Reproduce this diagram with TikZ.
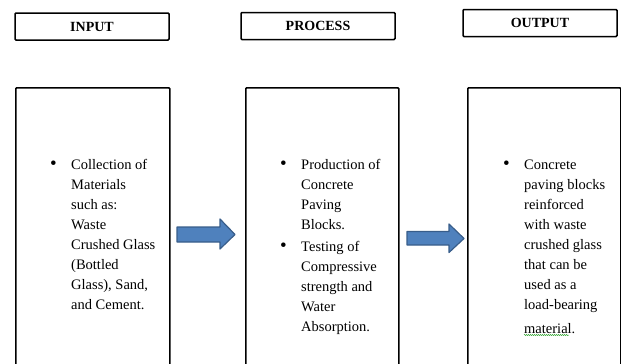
\documentclass[tikz,border=0pt]{standalone}
\usepackage{fontspec}
\setmainfont{Liberation Serif}
\usetikzlibrary{decorations.pathmorphing}

\definecolor{arrowfill}{HTML}{4F81BD}
\definecolor{arrowline}{HTML}{385D8A}
\definecolor{spellgreen}{HTML}{3BA83B}
\newcommand{\listbullet}{\makebox[21pt][l]{\raisebox{-0.5pt}{\fontsize{19}{20}\selectfont\textbullet}}}

\begin{document}
\begin{tikzpicture}[x=1pt,y=-1pt,
                    head box/.style={draw,line width=1.5pt,rounded corners=1pt,inner sep=0pt,
                      minimum width=154pt,minimum height=27pt,font=\bfseries\fontsize{14}{16}\selectfont},
                    main box/.style={draw,line width=1.5pt,rounded corners=1pt,inner sep=0pt,
                      anchor=north west,minimum width=154pt,minimum height=320pt},
                    list text/.style={anchor=north west,inner sep=0pt,font=\fontsize{14.5}{20}\selectfont},
                    block arrow/.style={fill=arrowfill,draw=arrowline,line width=1.2pt,line join=round}]

  \useasboundingbox (0,0) rectangle (621,364);
  \clip (0,0) rectangle (621,364);

  % headings
  \node[head box] (input) at (92,26.5) {INPUT};
  \node[head box] (process) at (318,26) {PROCESS};
  \node[head box] (output) at (540,23) {OUTPUT};

  % columns
  \node[main box] (inbox) at (15,87) {};
  \node[main box,minimum width=153pt] (procbox) at (245,87) {};
  \node[main box,minimum width=153pt] (outbox) at (467,87) {};

  \node[list text] (intext) at (50,155) {\begin{tabular}{@{}l@{}l@{}}
    \listbullet & Collection of\\
      & Materials\\
      & such as:\\
      & Waste\\
      & Crushed Glass\\
      & (Bottled\\
      & Glass), Sand,\\
      & and Cement.
  \end{tabular}};

  \node[list text] (proctext) at (280,155) {\begin{tabular}{@{}l@{}l@{}}
    \listbullet & Production of\\
      & Concrete\\
      & Paving\\
      & Blocks.\\[2pt]
    \listbullet & Testing of\\
      & Compressive\\
      & strength and\\
      & Water\\
      & Absorption.
  \end{tabular}};

  \node[list text] (outtext) at (503,155) {\begin{tabular}{@{}l@{}l@{}}
    \listbullet & Concrete\\
      & paving blocks\\
      & reinforced\\
      & with waste\\
      & crushed glass\\
      & that can be\\
      & used as a\\
      & load-bearing\\[4pt]
      & material.
  \end{tabular}};

  % spell check mark
  \draw[spellgreen,line width=0.5pt,decorate,decoration={snake,amplitude=0.6pt,segment length=2pt}]
    (524,335) -- (569,335);

  % arrows
  \draw[block arrow] (177,227) -- (220,227) -- (220,219) -- (235,234.5)
    -- (220,249) -- (220,242) -- (177,242) -- cycle;
  \draw[block arrow] (407,231.5) -- (449,231.5) -- (449,224) -- (464,238.5)
    -- (449,252.5) -- (449,245) -- (407,245) -- cycle;
\end{tikzpicture}
\end{document}
